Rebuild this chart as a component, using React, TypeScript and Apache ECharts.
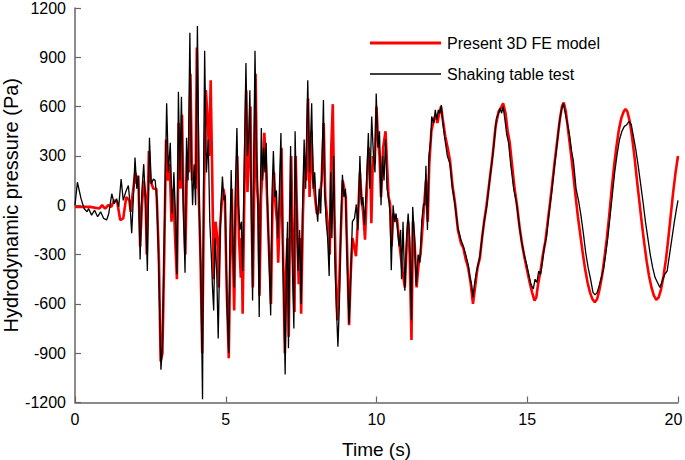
import React, { useEffect, useRef } from "react";
import * as echarts from "echarts";

const xTicks = { min: 0, max: 20, interval: 5 };
const yTicks = { min: -1200, max: 1200, interval: 300 };

const seriesNames = ["Present 3D FE model", "Shaking table test"];

// Present 3D FE model [time s, pressure Pa]
const femData: number[][] = [
  [0, -10], [0.5, -10], [0.8, -20], [0.9, 0], [1.0, -20], [1.1, 0], [1.2, -10], [1.3, 30], [1.4, 20], [1.5, -90], [1.6, -80], [1.7, 50], [1.8, 30], [1.85, -40], [1.9, 50], [2.0, 200], [2.05, 130], [2.1, 180], [2.16, -250], [2.22, 0], [2.28, 150], [2.34, 50], [2.38, -300], [2.45, 330], [2.5, 150], [2.6, 100], [2.7, 100], [2.78, -300], [2.84, -950], [2.9, -900], [2.96, -300], [3.02, 400], [3.08, 150], [3.14, 250], [3.2, -100], [3.26, 100], [3.32, -200], [3.38, -450], [3.44, 500], [3.5, 100], [3.55, 550], [3.6, 0], [3.66, -300], [3.72, 300], [3.78, 200], [3.83, 800], [3.88, 150], [3.94, 200], [4.0, 100], [4.04, 960], [4.1, 100], [4.16, -300], [4.22, -900], [4.28, 100], [4.34, 700], [4.4, 530], [4.45, 300], [4.5, 760], [4.55, 200], [4.6, -450], [4.66, -100], [4.72, -200], [4.77, -500], [4.81, -140], [4.86, 0], [4.92, 100], [4.97, 50], [5.03, -500], [5.1, -930], [5.15, -300], [5.2, 100], [5.24, -300], [5.28, -640], [5.33, 0], [5.38, 300], [5.44, -200], [5.5, -440], [5.53, -200], [5.56, -660], [5.62, 100], [5.68, 700], [5.72, 80], [5.77, 300], [5.82, 600], [5.86, -100], [5.9, -500], [5.95, 200], [5.99, 800], [6.04, 100], [6.08, 0], [6.12, -550], [6.17, 50], [6.22, 200], [6.28, 440], [6.33, 250], [6.38, 0], [6.44, -300], [6.5, -600], [6.55, 0], [6.6, 200], [6.65, 0], [6.7, -100], [6.74, -350], [6.8, 0], [6.85, 350], [6.9, -300], [6.96, -900], [7.0, -400], [7.05, -200], [7.09, -800], [7.13, -100], [7.17, 300], [7.22, -200], [7.28, -650], [7.32, 300], [7.37, -100], [7.42, -480], [7.46, -200], [7.5, -660], [7.56, -50], [7.62, 300], [7.67, 150], [7.73, 650], [7.78, 50], [7.84, 450], [7.9, 150], [7.96, 50], [8.02, -50], [8.07, -50], [8.12, 50], [8.18, 150], [8.25, 500], [8.3, 50], [8.35, -50], [8.4, -150], [8.45, -300], [8.5, 350], [8.55, 615], [8.6, 0], [8.65, -400], [8.7, -700], [8.76, -500], [8.82, -150], [8.88, 150], [8.93, 100], [8.98, 50], [9.03, -300], [9.09, -730], [9.15, -400], [9.2, -200], [9.26, -250], [9.32, -310], [9.38, -100], [9.45, 200], [9.5, 50], [9.56, -50], [9.62, -210], [9.68, 100], [9.74, 350], [9.8, 200], [9.83, -110], [9.88, 300], [9.94, 250], [10.0, 600], [10.05, 400], [10.1, 300], [10.15, 50], [10.22, 350], [10.3, 450], [10.35, 250], [10.4, 50], [10.45, 10], [10.5, -250], [10.56, -50], [10.62, -100], [10.68, -80], [10.74, -200], [10.8, -300], [10.86, -400], [10.94, -500], [11.0, -250], [11.05, -100], [11.1, -300], [11.16, -820], [11.21, -100], [11.27, -250], [11.33, -500], [11.4, -350], [11.46, -300], [11.52, -150], [11.58, 0], [11.64, 150], [11.7, -100], [11.75, 250], [11.82, 450], [11.9, 520], [11.96, 550], [12.02, 500], [12.08, 560], [12.14, 600], [12.2, 520], [12.28, 420], [12.36, 350], [12.44, 270], [12.52, 120], [12.6, 20], [12.7, -150], [12.8, -230], [12.88, -260], [12.96, -330], [13.04, -380], [13.12, -470], [13.2, -600], [13.27, -500], [13.35, -380], [13.43, -320], [13.5, -200], [13.57, -100], [13.65, 0], [13.75, 150], [13.85, 300], [13.95, 480], [14.05, 570], [14.12, 590], [14.2, 620], [14.28, 560], [14.35, 450], [14.42, 380], [14.5, 240], [14.58, 100], [14.66, 0], [14.75, -140], [14.84, -250], [14.92, -330], [15.0, -400], [15.08, -470], [15.16, -530], [15.24, -580], [15.3, -560], [15.36, -480], [15.44, -400], [15.52, -300], [15.6, -220], [15.68, -100], [15.76, 20], [15.84, 150], [15.92, 280], [16.0, 400], [16.08, 520], [16.15, 600], [16.21, 625], [16.28, 570], [16.36, 450], [16.44, 330], [16.52, 200], [16.6, 60], [16.68, -70], [16.76, -180], [16.84, -290], [16.92, -390], [17.0, -470], [17.08, -530], [17.16, -570], [17.24, -590], [17.32, -570], [17.4, -510], [17.48, -430], [17.56, -320], [17.64, -200], [17.72, -60], [17.8, 100], [17.88, 240], [17.96, 360], [18.04, 460], [18.12, 530], [18.2, 570], [18.26, 585], [18.32, 570], [18.4, 510], [18.48, 410], [18.56, 290], [18.64, 150], [18.72, 20], [18.8, -110], [18.88, -230], [18.96, -340], [19.04, -430], [19.12, -500], [19.2, -550], [19.28, -575], [19.36, -560], [19.44, -510], [19.52, -430], [19.6, -330], [19.68, -200], [19.76, -60], [19.84, 80], [19.92, 200], [20.0, 300],
];

// Shaking table test [time s, pressure Pa]
const testData: number[][] = [
  [0, 0], [0.08, 140], [0.2, 40], [0.3, -20], [0.4, -40], [0.45, -20], [0.55, -60], [0.65, -30], [0.75, -70], [0.85, -40], [0.95, -80], [1.05, -90], [1.12, -50], [1.22, 70], [1.3, 10], [1.38, 40], [1.45, -10], [1.53, 160], [1.6, 30], [1.68, 80], [1.77, 120], [1.82, 20], [1.88, -170], [1.94, 60], [1.99, 290], [2.05, 100], [2.1, 180], [2.16, -330], [2.22, 90], [2.28, 250], [2.34, 0], [2.40, -400], [2.44, 100], [2.47, 410], [2.53, 130], [2.6, 160], [2.66, 150], [2.72, 20], [2.78, -400], [2.85, -1000], [2.9, -850], [2.96, -200], [3.04, 620], [3.1, 200], [3.16, 380], [3.22, -50], [3.28, 200], [3.33, -50], [3.38, -420], [3.43, 690], [3.48, 150], [3.53, 660], [3.58, 100], [3.65, -410], [3.7, 410], [3.75, 150], [3.81, 1050], [3.86, 250], [3.9, 0], [3.95, 250], [4.0, 0], [4.06, 1090], [4.12, 0], [4.18, -500], [4.23, -1180], [4.27, 300], [4.3, 940], [4.36, 200], [4.42, 400], [4.47, -100], [4.52, -300], [4.56, -500], [4.6, -640], [4.64, -200], [4.7, -400], [4.75, -810], [4.8, -300], [4.84, 0], [4.89, 175], [4.94, 30], [4.98, 60], [5.04, -600], [5.1, -900], [5.14, -200], [5.18, 215], [5.23, -200], [5.28, -500], [5.32, 100], [5.37, 470], [5.42, 0], [5.47, -150], [5.52, -100], [5.56, -400], [5.61, 200], [5.67, 865], [5.72, 300], [5.76, 400], [5.8, 700], [5.85, 0], [5.89, -580], [5.93, 300], [5.97, 940], [6.02, 300], [6.06, 100], [6.11, -680], [6.15, 100], [6.18, 470], [6.22, 150], [6.26, 350], [6.3, 200], [6.34, 380], [6.4, -100], [6.45, -400], [6.49, -670], [6.54, 100], [6.58, 330], [6.63, 50], [6.68, 90], [6.73, -200], [6.78, 100], [6.83, 440], [6.88, -200], [6.93, -600], [6.97, -1030], [7.02, -300], [7.05, -100], [7.08, -870], [7.12, -200], [7.15, 360], [7.2, -300], [7.26, -750], [7.3, 450], [7.35, 0], [7.4, -400], [7.45, -150], [7.5, -600], [7.55, 0], [7.6, 400], [7.65, 100], [7.72, 760], [7.78, 200], [7.85, 620], [7.9, 100], [7.95, 200], [8.0, 0], [8.05, -100], [8.1, 100], [8.15, -50], [8.2, 300], [8.24, 640], [8.28, 100], [8.33, -100], [8.38, -200], [8.43, -430], [8.48, 200], [8.52, -200], [8.58, 300], [8.62, -330], [8.67, -620], [8.72, -860], [8.77, -600], [8.82, -100], [8.87, 185], [8.92, 50], [8.97, 100], [9.02, -300], [9.09, -720], [9.15, -400], [9.2, -100], [9.27, -80], [9.33, 5], [9.38, -150], [9.45, 300], [9.5, 0], [9.55, 50], [9.6, -120], [9.66, 100], [9.73, 440], [9.78, 100], [9.84, 540], [9.9, 300], [9.95, 200], [9.99, 680], [10.05, 350], [10.1, 450], [10.15, 0], [10.2, 300], [10.25, 150], [10.3, 400], [10.35, 100], [10.4, 50], [10.45, -50], [10.49, -395], [10.55, 0], [10.6, -100], [10.65, -50], [10.7, -150], [10.75, -250], [10.8, -150], [10.83, -450], [10.88, -100], [10.94, -520], [11.0, -200], [11.05, -50], [11.1, -200], [11.16, -700], [11.2, -10], [11.26, -200], [11.32, -490], [11.38, -300], [11.44, -350], [11.5, -100], [11.56, 10], [11.6, 0], [11.64, 240], [11.69, -150], [11.74, 300], [11.8, 400], [11.83, 540], [11.9, 500], [11.95, 580], [12.0, 520], [12.05, 580], [12.1, 560], [12.15, 610], [12.2, 500], [12.27, 400], [12.35, 300], [12.44, 250], [12.52, 100], [12.6, 10], [12.7, -140], [12.8, -210], [12.88, -250], [12.96, -300], [13.04, -360], [13.1, -440], [13.15, -480], [13.2, -560], [13.25, -480], [13.3, -420], [13.36, -370], [13.43, -310], [13.5, -200], [13.57, -100], [13.65, -15], [13.75, 150], [13.82, 250], [13.9, 380], [13.98, 530], [14.05, 560], [14.1, 590], [14.15, 560], [14.2, 600], [14.26, 520], [14.32, 430], [14.38, 380], [14.45, 250], [14.55, 100], [14.64, 20], [14.72, -100], [14.81, -220], [14.9, -300], [14.98, -360], [15.05, -420], [15.12, -480], [15.2, -510], [15.26, -450], [15.32, -470], [15.38, -400], [15.44, -420], [15.5, -350], [15.57, -250], [15.64, -190], [15.72, -50], [15.81, 80], [15.9, 230], [15.98, 360], [16.05, 480], [16.12, 570], [16.2, 620], [16.26, 560], [16.33, 500], [16.4, 430], [16.47, 330], [16.53, 270], [16.62, 100], [16.7, 30], [16.78, -60], [16.86, -170], [16.94, -290], [17.02, -380], [17.1, -450], [17.18, -530], [17.25, -545], [17.32, -530], [17.4, -480], [17.47, -430], [17.53, -390], [17.6, -300], [17.67, -200], [17.74, -80], [17.82, 60], [17.9, 200], [17.98, 310], [18.06, 400], [18.14, 450], [18.22, 480], [18.3, 490], [18.38, 510], [18.45, 490], [18.52, 420], [18.6, 340], [18.68, 240], [18.76, 130], [18.84, 20], [18.92, -100], [19.0, -200], [19.08, -300], [19.16, -380], [19.24, -440], [19.32, -470], [19.4, -500], [19.48, -460], [19.56, -420], [19.64, -400], [19.72, -300], [19.8, -200], [19.88, -100], [19.95, -20], [20.0, 30],
];

const FONT = "'Liberation Sans', Arial, sans-serif";

export default function App() {
  const ref = useRef<HTMLDivElement>(null);
  useEffect(() => {
    if (!ref.current) return;
    const chart = echarts.init(ref.current, undefined, { renderer: "svg" });
    const axisLine = { show: true, onZero: false, lineStyle: { color: "#666", width: 1.5 } };
    const axisTick = { show: true, inside: true, length: 6, lineStyle: { color: "#666", width: 1.2 } };
    chart.setOption({
      animation: false,
      textStyle: { fontFamily: FONT },
      grid: { left: 75, right: 7, top: 8, bottom: 57.5, containLabel: false, outerBoundsMode: "none" },
      xAxis: {
        type: "value",
        min: xTicks.min,
        max: xTicks.max,
        interval: xTicks.interval,
        name: "Time (s)",
        nameLocation: "middle",
        nameGap: 37,
        nameMoveOverlap: false,
        nameTextStyle: { fontSize: 19, color: "#000", fontFamily: FONT },
        axisLine,
        axisTick,
        axisLabel: {
          fontSize: 16,
          color: "#000",
          margin: 9,
          fontFamily: FONT,
          formatter: (v: number) => (v === xTicks.max ? "{m|" + v + "}" : String(v)),
          rich: { m: { fontSize: 16, fontFamily: FONT, color: "#000", padding: [0, 9, 0, 0] } },
        },
        splitLine: { show: false },
      },
      yAxis: {
        type: "value",
        min: yTicks.min,
        max: yTicks.max,
        interval: yTicks.interval,
        name: "Hydrodynamic pressure (Pa)",
        nameLocation: "middle",
        nameGap: 54,
        nameMoveOverlap: false,
        nameTextStyle: { fontSize: 20, lineHeight: 20, color: "#000", fontFamily: FONT },
        axisLine,
        axisTick,
        axisLabel: { fontSize: 16, color: "#000", margin: 9, fontFamily: FONT, formatter: (v: number) => String(v) },
        splitLine: { show: false },
      },
      series: [
        {
          name: seriesNames[0],
          type: "line",
          data: femData,
          showSymbol: false,
          lineStyle: { color: "#ff0000", width: 2.6 },
          z: 2,
        },
        {
          name: seriesNames[1],
          type: "line",
          data: testData,
          showSymbol: false,
          lineStyle: { color: "#000000", width: 1.3 },
          z: 3,
        },
      ],
      graphic: [
        { type: "line", shape: { x1: 370, y1: 43, x2: 441, y2: 43 }, style: { stroke: "#ff0000", lineWidth: 3 } },
        { type: "text", x: 447, y: 43, style: { text: seriesNames[0], fontSize: 16, fontFamily: FONT, fill: "#000", verticalAlign: "middle" } },
        { type: "line", shape: { x1: 370, y1: 74, x2: 441, y2: 74 }, style: { stroke: "#000", lineWidth: 1.3 } },
        { type: "text", x: 447, y: 74, style: { text: seriesNames[1], fontSize: 16, fontFamily: FONT, fill: "#000", verticalAlign: "middle" } },
      ],
    });
    return () => chart.dispose();
  }, []);
  return <div ref={ref} style={{ width: 685, height: 460, position: "absolute", left: 0, top: 0 }} />;
}
